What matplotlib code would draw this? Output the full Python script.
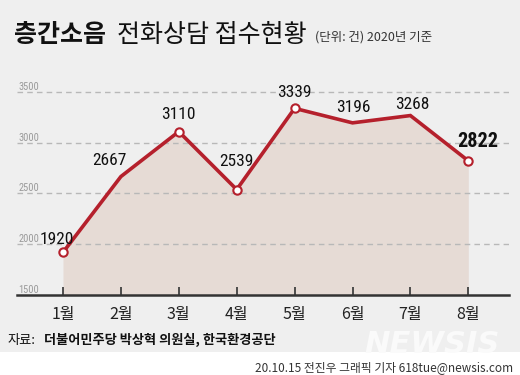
import matplotlib
matplotlib.use("Agg")
import logging
logging.getLogger("matplotlib.font_manager").setLevel(logging.ERROR)
import matplotlib.pyplot as plt
from matplotlib.patches import Rectangle

months = ["1월", "2월", "3월", "4월", "5월", "6월", "7월", "8월"]
values = [1920, 2667, 3110, 2539, 3339, 3196, 3268, 2822]
marker_idx = [0, 2, 3, 4, 7]
yticks = [1500, 2000, 2500, 3000, 3500]
# label offsets in pixels (dx, dy)
label_off = [(-6, 13), (-11, 16), (0, 17), (0, 28), (0, 16), (1, 15), (2, 11), (9, 19)]

W, H = 520, 375
KR = ["Noto Sans CJK KR", "DejaVu Sans"]
NUM = ["Roboto Condensed", "Liberation Sans Narrow", "Liberation Sans"]
plt.rcParams["font.family"] = KR

fig = plt.figure(figsize=(W / 100, H / 100), dpi=100)
fig.patch.set_facecolor("white")
bg = Rectangle((0, 1 - 352 / H), 1, 352 / H, transform=fig.transFigure,
               facecolor="#efefef", edgecolor="none", zorder=-10)
fig.patches.append(bg)

def px(x, y):
    return x / W, 1 - y / H

# axes placement
x_left, x_right = 17, 509
y_bot, y_top = 295, 80
ax = fig.add_axes([x_left / W, 1 - y_bot / H, (x_right - x_left) / W, (y_bot - y_top) / H])
ax.set_facecolor("none")
step = 57.9
x0 = 63
ax.set_xlim((x_left - x0) / step, (x_right - x0) / step)
ppv = (295 - 92) / 2000.0
ax.set_ylim(1500, 1500 + (y_bot - y_top) / ppv)

xs = list(range(len(values)))
ax.fill_between(xs, values, 1500, color="#e6dbd5", lw=0, zorder=1)
for t in yticks[1:]:
    ax.axhline(t, color="#b8b8b8", lw=1, ls=(0, (4, 3)), zorder=2)
ax.plot(xs, values, color="#b5202c", lw=2.6, solid_joinstyle="miter", zorder=3)
ax.plot([xs[i] for i in marker_idx], [values[i] for i in marker_idx], "o",
        ms=6, mfc="white", mec="#b5202c", mew=1.5, zorder=4)

for t in yticks:
    ax.text(ax.get_xlim()[0] + 0.02, t + 2, str(t), fontsize=7.5, color="#9a9a9a",
            ha="left", va="bottom", family=NUM, fontstretch="condensed", zorder=5)

for i, v in enumerate(values):
    dx, dy = label_off[i]
    bold = (i == len(values) - 1)
    ax.annotate(str(v), (xs[i], v), xytext=(dx, dy), textcoords="offset pixels",
                ha="center", va="center", fontsize=14.5 if bold else 12.5,
                fontweight="bold" if bold else "normal", family=NUM,
                fontstretch="condensed", color="#111111", zorder=6)

for s in ["top", "right", "left"]:
    ax.spines[s].set_visible(False)
ax.spines["bottom"].set_color("#333333")
ax.spines["bottom"].set_linewidth(1.8)
ax.set_yticks([])
ax.set_xticks(xs)
ax.set_xticklabels(months, fontsize=11.5, color="#222222")
ax.tick_params(axis="x", direction="in", length=6, width=1.2, color="#333333", pad=8)

# title
fig.text(*px(14, 42), "층간소음", fontsize=18, fontweight="bold", color="#111111",
         ha="left", va="baseline")
fig.text(*px(117, 42), "전화상담 접수현황", fontsize=18, color="#111111",
         ha="left", va="baseline")
fig.text(*px(315, 41), "(단위: 건) 2020년 기준", fontsize=9, color="#333333",
         ha="left", va="baseline")

# source
fig.text(*px(8, 344), "자료:", fontsize=9.5, color="#111111", ha="left", va="baseline")
fig.text(*px(44, 344), "더불어민주당 박상혁 의원실, 한국환경공단", fontsize=9.5,
         fontweight="bold", color="#111111", ha="left", va="baseline")

# watermark
fig.text(*px(432, 353), "NEWSIS", fontsize=22, fontweight="bold", style="italic",
         color="#fafafa", ha="center", va="baseline", family=["DejaVu Sans"], zorder=-5)

# credit
fig.text(*px(513, 371), "20.10.15 전진우 그래픽 기자 618tue@newsis.com", fontsize=8.5,
         color="#333333", ha="right", va="baseline")

fig.savefig("out.png", dpi=100, facecolor=fig.get_facecolor())
